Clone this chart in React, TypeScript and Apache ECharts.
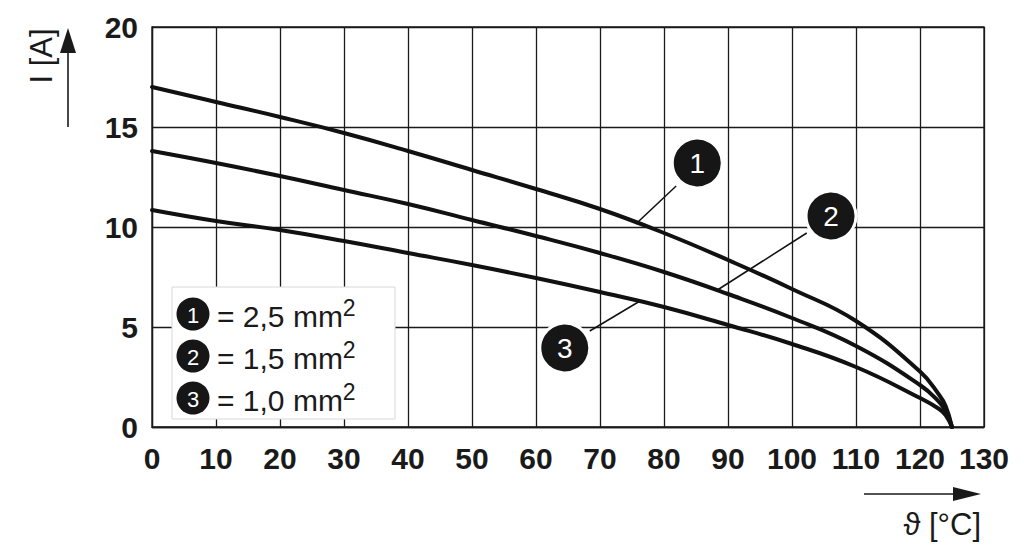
import React, { useEffect, useRef } from "react";
import * as echarts from "echarts";

const temps = [0, 10, 20, 30, 40, 50, 60, 70, 80, 90, 100, 110, 120, 123, 124, 125];
const current25 = [17.0, 16.25, 15.5, 14.7, 13.8, 12.85, 11.9, 10.9, 9.7, 8.35, 6.9, 5.3, 2.77, 1.6, 1.05, 0];
const current15 = [13.8, 13.2, 12.55, 11.85, 11.15, 10.35, 9.55, 8.7, 7.75, 6.65, 5.45, 4.05, 2.1, 1.25, 0.8, 0];
const current10 = [10.85, 10.3, 9.85, 9.3, 8.7, 8.1, 7.45, 6.75, 6.0, 5.1, 4.15, 3.0, 1.45, 0.9, 0.6, 0];

const seriesNames = ["1", "2", "3"];
const legendTexts = ["2,5", "1,5", "1,0"];
// annotation bubble positions in data space and leader line ends
const bubbleCoords = [[85.2, 13.2], [106.1, 10.55], [64.5, 3.95]];
const leaderLines = [
  [[75.6, 10.15], [81.9, 12.05]],
  [[88.1, 6.8], [102.3, 9.7]],
  [[76.25, 6.3], [68.4, 4.8]],
];

const FONT = "'Liberation Sans', Arial, Helvetica, sans-serif";
const INK = "#1a1a1a";

export default function App() {
  const ref = useRef<HTMLDivElement>(null);
  useEffect(() => {
    if (!ref.current) return;
    const chart = echarts.init(ref.current, null, { renderer: "svg" });
    const all = [current25, current15, current10];
    const series = all.map((vals, i) => ({
      type: "line",
      name: seriesNames[i],
      data: temps.map((t, j) => [t, vals[j]]),
      showSymbol: false,
      smooth: 0.45,
      lineStyle: { color: "#111", width: 4, cap: "round" },
      itemStyle: { color: "#111" },
      silent: true,
      z: 3,
      markLine: {
        silent: true,
        symbol: ["none", "none"],
        label: { show: false },
        lineStyle: { color: "#111", width: 1.5, type: "solid" },
        data: [[{ coord: leaderLines[i][0] }, { coord: leaderLines[i][1] }]],
        z: 4,
      },
      markPoint: {
        silent: true,
        symbol: "circle",
        symbolSize: 50,
        itemStyle: { color: "#161616", borderColor: "#fff", borderWidth: 3 },
        label: {
          show: true,
          formatter: seriesNames[i],
          color: "#fff",
          fontSize: 28,
          fontFamily: FONT,
        },
        data: [{ coord: bubbleCoords[i] }],
        z: 5,
      },
    }));

    const legendGraphics: any[] = [
      {
        type: "rect",
        shape: { x: 172, y: 287, width: 223, height: 132 },
        style: { fill: "#fff", stroke: "#d8d8d8", lineWidth: 1 },
        z: 10,
      },
    ];
    legendTexts.forEach((t, i) => {
      const cy = 314 + i * 42;
      legendGraphics.push({
        type: "circle",
        shape: { cx: 193, cy, r: 16.5 },
        style: { fill: "#161616" },
        z: 11,
      });
      legendGraphics.push({
        type: "text",
        x: 193,
        y: cy + 1,
        style: {
          text: seriesNames[i],
          fill: "#fff",
          font: `22px ${FONT}`,
          align: "center",
          verticalAlign: "middle",
        },
        z: 12,
      });
      legendGraphics.push({
        type: "text",
        x: 217,
        y: cy + 2,
        style: {
          text: `= ${t} mm{s|2}`,
          fill: INK,
          font: `30px ${FONT}`,
          verticalAlign: "middle",
          rich: {
            s: { fontSize: 23, fontFamily: FONT, fill: INK, padding: [0, 0, 17, 0] },
          },
        },
        z: 12,
      });
    });

    chart.setOption({
      animation: false,
      grid: {
        left: 152,
        right: 40,
        top: 27,
        bottom: 133,
        show: true,
        borderColor: INK,
        borderWidth: 1.3,
      },
      xAxis: {
        type: "value",
        min: 0,
        max: 130,
        interval: 10,
        axisLine: { show: true, lineStyle: { color: INK, width: 1.3 } },
        axisTick: { show: false },
        splitLine: { show: true, lineStyle: { color: INK, width: 1.3 } },
        axisLabel: {
          color: INK,
          fontSize: 30,
          fontWeight: "bold",
          fontFamily: FONT,
          margin: 16,
        },
      },
      yAxis: {
        type: "value",
        min: 0,
        max: 20,
        interval: 5,
        axisLine: { show: true, lineStyle: { color: INK, width: 1.3 } },
        axisTick: { show: false },
        splitLine: { show: true, lineStyle: { color: INK, width: 1.3 } },
        axisLabel: {
          color: INK,
          fontSize: 30,
          fontWeight: "bold",
          fontFamily: FONT,
          margin: 14,
        },
      },
      series,
      graphic: [
        // y axis name and arrow
        {
          type: "text",
          x: 41,
          y: 56,
          rotation: Math.PI / 2,
          style: {
            text: "I [A]",
            fill: INK,
            font: `31px ${FONT}`,
            align: "center",
            verticalAlign: "middle",
          },
        },
        {
          type: "line",
          shape: { x1: 68, y1: 127, x2: 68, y2: 50 },
          style: { stroke: INK, lineWidth: 1.6 },
        },
        {
          type: "polygon",
          shape: { points: [[68, 28], [60, 53], [76, 53]] },
          style: { fill: INK },
        },
        // x axis name and arrow
        {
          type: "line",
          shape: { x1: 864, y1: 494, x2: 958, y2: 494 },
          style: { stroke: INK, lineWidth: 1.6 },
        },
        {
          type: "polygon",
          shape: { points: [[981, 494], [953, 487], [953, 501]] },
          style: { fill: INK },
        },
        {
          type: "text",
          x: 981,
          y: 524,
          style: {
            text: "\u03D1 [°C]",
            fill: INK,
            font: `31px ${FONT}`,
            align: "right",
            verticalAlign: "middle",
          },
        },
        ...legendGraphics,
      ],
    });
    return () => chart.dispose();
  }, []);
  return (
    <div
      ref={ref}
      style={{ position: "absolute", left: 0, top: 0, width: 1024, height: 560, background: "#fff" }}
    />
  );
}
